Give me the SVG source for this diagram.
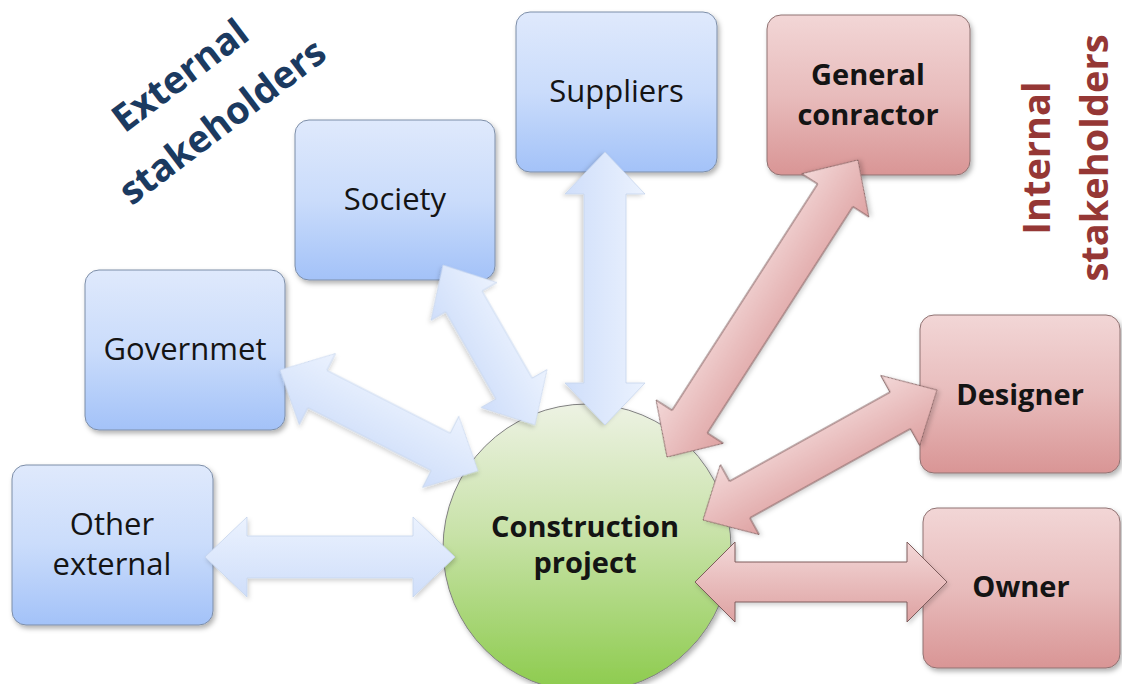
<svg xmlns="http://www.w3.org/2000/svg" width="1122" height="684" viewBox="0 0 1122 684">
  <style>
    text { font-family: "Open Sans", "Noto Sans", sans-serif; fill: #141414; text-anchor: middle; }
    .lbl { font-size: 31px; }
    .lbl-b { font-size: 29px; font-weight: 700; }
    .grp { font-size: 38px; font-weight: 700; }
    .ext { fill: #1b3a60; }
    .int { fill: #953735; }
    .box-ext { fill: url(#gBlue); stroke: #7d8ea8; stroke-width: 1; filter: url(#shadow); }
    .box-int { fill: url(#gRed); stroke: #8f7272; stroke-width: 1; filter: url(#shadow); }
    .hub { fill: url(#gGreen); stroke: #808080; stroke-width: 1; filter: url(#shadow); }
    .arr-ext { fill: url(#gArrBlue); stroke: #c5d4ec; stroke-width: 0.8; filter: url(#shadowSoft); }
    .arr-int { fill: url(#gArrRed); stroke: #7e5c5c; stroke-width: 1; filter: url(#shadowSoft); }
  </style>
  <defs>
    <linearGradient id="gBlue" x1="0" y1="0" x2="0" y2="1">
      <stop offset="0" stop-color="#dfe9fc"/>
      <stop offset="0.5" stop-color="#cadcfb"/>
      <stop offset="1" stop-color="#a3c2f8"/>
    </linearGradient>
    <linearGradient id="gRed" x1="0" y1="0" x2="0" y2="1">
      <stop offset="0" stop-color="#f2d6d6"/>
      <stop offset="0.5" stop-color="#e8bcbc"/>
      <stop offset="1" stop-color="#d99595"/>
    </linearGradient>
    <linearGradient id="gGreen" x1="0" y1="0" x2="0" y2="1">
      <stop offset="0" stop-color="#edf2e3"/>
      <stop offset="0.45" stop-color="#c8e2a8"/>
      <stop offset="1" stop-color="#8ccb4c"/>
    </linearGradient>
    <linearGradient id="gArrBlue" x1="0" y1="0" x2="0" y2="1">
      <stop offset="0" stop-color="#ebf2fe"/>
      <stop offset="1" stop-color="#cfdefa"/>
    </linearGradient>
    <linearGradient id="gArrRed" x1="0" y1="0" x2="0" y2="1">
      <stop offset="0" stop-color="#f3d8d8"/>
      <stop offset="1" stop-color="#dea2a2"/>
    </linearGradient>
    <filter id="shadow" x="-10%" y="-10%" width="125%" height="130%">
      <feDropShadow dx="2" dy="3" stdDeviation="2.5" flood-color="#000" flood-opacity="0.3"/>
    </filter>
    <filter id="shadowSoft" x="-10%" y="-20%" width="125%" height="150%">
      <feDropShadow dx="1.5" dy="2.5" stdDeviation="2" flood-color="#000" flood-opacity="0.18"/>
    </filter>
  </defs>

  <rect width="1122" height="684" fill="#ffffff"/>

  <!-- group captions -->
  <g id="label-external" transform="translate(188,86) rotate(-37)">
    <text class="grp ext" x="0" y="0">External</text>
    <text class="grp ext" x="6" y="62">stakeholders</text>
  </g>
  <g id="label-internal" transform="translate(1050,158) rotate(-90)">
    <text class="grp int" x="0" y="0">Internal</text>
    <text class="grp int" x="0" y="58">stakeholders</text>
  </g>

  <!-- external stakeholders -->
  <g id="suppliers">
    <rect class="box-ext" x="516" y="12" width="201" height="160" rx="14"/>
    <text class="lbl" x="616.5" y="102">Suppliers</text>
  </g>
  <g id="society">
    <rect class="box-ext" x="295" y="120" width="200" height="160" rx="14"/>
    <text class="lbl" x="395" y="210">Society</text>
  </g>
  <g id="government">
    <rect class="box-ext" x="85" y="270" width="200" height="160" rx="14"/>
    <text class="lbl" x="185" y="360">Governmet</text>
  </g>
  <g id="other-external">
    <rect class="box-ext" x="12" y="465" width="201" height="160" rx="14"/>
    <text class="lbl" x="112" y="535">Other</text>
    <text class="lbl" x="112" y="575">external</text>
  </g>

  <!-- internal stakeholders -->
  <g id="general-contractor">
    <rect class="box-int" x="767" y="15" width="203" height="160" rx="14"/>
    <text class="lbl-b" x="868" y="85">General</text>
    <text class="lbl-b" x="868" y="125">conractor</text>
  </g>
  <g id="designer">
    <rect class="box-int" x="920" y="315" width="200" height="158" rx="14"/>
    <text class="lbl-b" x="1020" y="405">Designer</text>
  </g>
  <g id="owner">
    <rect class="box-int" x="923" y="508" width="197" height="160" rx="14"/>
    <text class="lbl-b" x="1021" y="597">Owner</text>
  </g>

  <!-- central project -->
  <g id="construction-project">
    <circle class="hub" cx="587" cy="548" r="144"/>
    <text class="lbl-b" x="585" y="537">Construction</text>
    <text class="lbl-b" x="585" y="573">project</text>
  </g>

  <!-- two-way relationship arrows: tip at local x=0 and x=L, shaft half-width 21, head half-width 40, head length 42 -->
  <g id="connectors">
    <path class="arr-ext" transform="translate(205,557)" d="M0,0 L42,-40 L42,-21 L208,-21 L208,-40 L250,0 L208,40 L208,21 L42,21 L42,40 Z"/>
    <path class="arr-ext" transform="translate(280,370) rotate(27)" d="M0,0 L42,-40 L42,-21 L180.3,-21 L180.3,-40 L222.3,0 L180.3,40 L180.3,21 L42,21 L42,40 Z"/>
    <path class="arr-ext" transform="translate(443,265) rotate(60.1)" d="M0,0 L42,-38 L42,-21 L142.6,-21 L142.6,-38 L184.6,0 L142.6,38 L142.6,21 L42,21 L42,38 Z"/>
    <path class="arr-ext" transform="translate(605,152) rotate(90)" d="M0,0 L42,-40 L42,-21 L231,-21 L231,-40 L273,0 L231,40 L231,21 L42,21 L42,40 Z"/>
    <path class="arr-int" transform="translate(667,457) rotate(-57.26)" d="M0,0 L42,-40 L42,-21 L311.1,-21 L311.1,-40 L353.1,0 L311.1,40 L311.1,21 L42,21 L42,40 Z"/>
    <path class="arr-int" transform="translate(703,520) rotate(-29.05)" d="M0,0 L42,-40 L42,-21 L225.7,-21 L225.7,-40 L267.7,0 L225.7,40 L225.7,21 L42,21 L42,40 Z"/>
    <path class="arr-int" transform="translate(695,582)" d="M0,0 L40,-40 L40,-20 L212,-20 L212,-40 L252,0 L212,40 L212,20 L40,20 L40,40 Z"/>
  </g>
</svg>
